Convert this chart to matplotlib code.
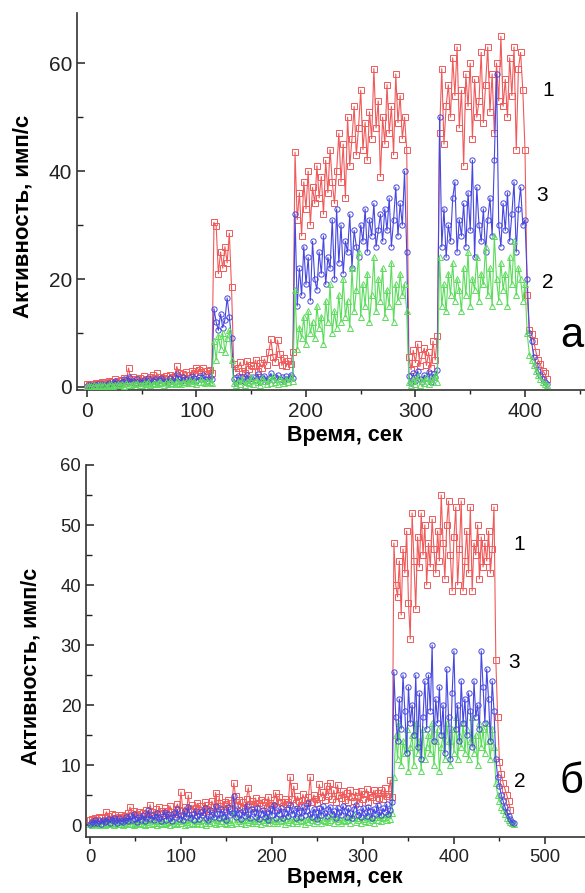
import numpy as np
import matplotlib
matplotlib.use("Agg")
import matplotlib.pyplot as plt
from matplotlib.ticker import MultipleLocator

plt.rcParams['font.family'] = ['Liberation Sans', 'DejaVu Sans']

STEP = 2  # seconds between samples

# ---------------- panel "а" ----------------
red_a = [
    # 0-114
    0.5,0.4,0.6,0.5,0.8,0.6,0.7,0.9,1.0,0.7,
    1.2,0.9,1.0,1.4,1.1,0.8,1.3,1.6,1.2,3.5,
    1.5,1.8,1.0,1.4,1.7,1.2,2.0,1.5,1.3,1.8,
    2.2,1.6,2.5,1.4,1.9,1.7,2.1,1.5,2.3,1.8,
    2.0,3.8,2.6,1.9,2.4,2.8,1.7,2.2,3.0,2.5,
    3.6,3.2,2.7,3.5,2.4,2.9,3.1,2.6,
    # 116-130
    30.5,29.8,21,25,22,26,23,28.5,
    # 132-188
    18.5,4.2,2.8,3.5,4.6,3.0,2.6,4.8,3.3,4.0,
    3.8,5.0,2.9,4.4,3.6,5.2,4.1,6.5,8.8,5.5,
    4.6,8.7,6.2,4.0,5.4,3.8,4.9,4.3,6.5,
    # 190-292
    43.5,31,36,28,38,33,40,30,37,34,
    41,35,39,32,42,36,44,38,34,40,
    47,38,45,35,50,41,46,52,43,48,
    55,44,49,42,51,46,59,48,53,39,
    50,45,56,47,52,43,58,49,54,46,
    50,44,
    # 294-320
    5.5,3.2,6.8,4.5,8.0,3.8,5.9,7.2,4.0,6.4,3.5,8.5,5.0,9.5,
    # 322-400
    47,59,45,52,56,50,61,54,63,48,
    55,41,58,52,60,46,57,50,53,62,
    49,56,63,51,58,47,60,53,65,52,
    57,50,61,54,63,44,59,62,55,44,
    # 402-420
    17,10.5,9.8,8.5,6.5,5.0,4.2,3.0,2.5,1.5,
]

blue_a = [
    0.2,0.3,0.1,0.4,0.3,0.5,0.2,0.6,0.4,0.3,
    0.7,0.5,0.8,1.2,0.6,0.4,1.0,1.5,0.8,1.9,
    0.9,1.2,0.6,1.4,1.0,0.7,1.3,0.9,1.6,0.8,
    1.1,1.5,0.9,1.3,1.7,1.0,1.2,0.8,1.6,1.3,
    1.0,2.4,1.4,1.1,1.8,1.5,0.9,1.3,2.0,1.6,
    1.2,1.8,1.4,2.3,1.5,1.1,1.9,1.4,
    14.5,12,10.5,13.5,11,12.5,16.5,13,
    9,1.5,0.8,2.0,1.2,1.8,0.9,2.3,1.4,1.1,
    1.9,1.3,2.4,1.0,1.6,2.1,1.2,1.7,2.5,1.3,
    1.8,2.2,1.4,1.9,1.1,2.0,1.5,2.3,1.6,
    32,15,22,17,26,19,24,16,27,20,
    18,25,21,28,19,24,22,31,20,33,
    23,30,21,27,25,32,22,29,26,24,
    30,27,33,25,31,28,34,26,29,32,
    27,33,29,35,26,31,37,28,34,30,
    40,25,
    2.0,0.8,2.5,1.2,3.0,1.5,0.9,2.2,1.6,2.8,1.0,2.4,1.8,3.2,
    50,26,33,24,30,27,35,38,25,31,
    28,34,26,36,29,42,24,37,30,27,
    33,25,31,35,28,42,58,30,26,34,
    29,36,27,32,38,25,33,37,30,31,
    20,10,8.5,5.5,4.0,3.0,2.2,1.5,1.0,0.5,
]

green_a = [
    0.1,0.2,0.1,0.3,0.2,0.1,0.3,0.2,0.4,0.2,
    0.3,0.5,0.2,0.4,0.6,0.3,0.5,0.2,0.7,0.4,
    0.3,0.6,0.5,0.8,0.4,0.3,0.7,0.5,0.9,0.4,
    0.6,0.8,0.5,1.0,0.7,0.4,0.9,0.6,1.1,0.7,
    0.5,1.2,0.8,0.6,1.0,0.9,0.7,1.3,0.8,1.1,
    0.6,1.0,1.4,0.9,0.7,1.2,1.0,0.8,
    8.5,5,9.5,7,10,6.5,9,10.5,
    5,0.8,0.4,1.2,0.6,1.5,0.3,1.0,0.7,1.8,
    0.5,1.3,0.9,0.4,1.6,1.1,0.6,1.4,0.8,2.0,
    1.0,0.5,1.7,1.2,0.7,1.5,0.9,1.9,1.1,
    18,7,11,9,13,8,14,10,12,9,
    15,11,13,8,16,12,19,10,14,11,
    17,12,20,13,16,11,22,14,18,25,
    13,19,15,21,12,17,24,14,20,16,
    22,13,18,15,23,12,19,16,21,17,
    19,14,
    1.0,0.3,1.5,0.6,2.0,0.4,1.2,0.8,1.8,0.5,1.4,0.9,2.2,1.0,
    24,15,19,14,21,17,23,16,20,18,
    14,22,17,25,15,20,18,24,16,21,
    19,26,17,22,15,28,20,16,23,18,
    21,15,24,19,27,17,22,20,16,19,
    10,6,5,4,3,2.2,1.5,1.0,0.5,0.3,
]

# ---------------- panel "б" ----------------
red_b = [
    0.8,1.0,0.6,1.2,0.9,1.4,1.1,0.7,1.3,2.2,
    1.5,1.0,1.8,1.2,1.6,0.9,1.4,1.7,1.1,1.5,
    1.3,2.0,3.0,1.6,2.4,1.2,1.9,2.2,1.5,2.0,
    1.8,2.5,1.4,3.4,2.1,1.7,2.6,1.9,3.0,2.3,
    2.0,2.8,1.6,2.4,3.2,2.2,1.8,2.7,3.5,2.5,
    5.5,2.4,3.0,2.0,5.0,2.6,3.3,2.1,2.9,3.6,
    2.5,3.1,2.2,3.8,2.7,3.4,2.3,4.0,3.0,5.4,
    2.8,4.6,3.2,2.6,3.9,3.5,4.2,2.9,3.7,7.0,
    4.8,3.3,4.1,3.0,3.8,2.7,4.4,6.2,3.5,4.0,
    3.1,4.5,2.9,3.7,4.2,3.4,3.9,2.8,4.7,3.6,
    3.3,4.1,5.4,3.0,4.6,3.8,3.2,4.3,3.5,3.9,
    8.0,4.4,6.5,3.6,4.8,4.0,3.4,5.1,4.2,3.7,
    4.6,8.0,3.9,5.0,4.3,3.6,6.8,4.7,5.5,4.1,
    6.5,4.9,7.0,4.4,5.8,3.9,6.7,5.0,4.5,5.6,
    4.2,5.3,3.8,5.9,4.6,4.0,5.5,4.8,3.7,5.7,
    4.4,5.2,6.0,3.9,5.0,4.7,5.8,4.1,5.4,4.5,
    5.9,4.3,6.2,4.8,5.1,7.5,4.6,
    47,40,38,44,35,46,42,49,37,31,
    52,44,36,48,43,52,45,50,40,47,
    43,51,46,42,49,44,55,47,41,50,
    54,45,39,48,53,40,46,54,39,44,
    49,42,53,39,47,45,50,41,48,43,
    47,44,49,42,46,53,
    27.5,18,10.5,8.5,7,6,5,4,2.5,
]

blue_b = [
    0.2,0.5,0.3,0.8,0.4,0.6,0.2,0.9,0.5,0.7,
    1.0,0.4,0.8,1.2,0.6,0.3,1.1,0.7,0.5,0.9,
    1.3,0.6,1.5,0.8,1.9,1.0,0.5,1.4,0.9,1.7,
    0.7,1.2,2.5,1.0,1.6,0.8,1.3,2.0,1.1,0.6,
    1.5,2.2,0.9,1.8,1.2,0.7,2.0,1.4,2.6,1.0,
    1.7,0.8,2.3,1.3,3.0,1.1,1.9,0.9,2.4,1.5,
    1.0,2.1,1.6,2.8,1.2,0.8,2.5,1.7,1.3,3.1,
    1.9,1.1,2.6,1.4,2.2,0.9,3.0,1.6,2.0,4.8,
    1.3,2.7,1.8,1.0,2.4,1.5,3.2,1.9,1.1,2.6,
    2.1,1.4,2.9,1.0,1.8,2.5,1.3,2.2,0.9,2.7,
    1.6,3.4,1.2,2.3,1.9,2.8,1.1,2.0,2.6,1.5,
    3.3,1.8,2.5,1.2,2.9,2.1,1.4,3.0,1.7,2.4,
    3.6,1.9,1.3,2.7,2.2,1.0,2.8,1.6,3.1,2.0,
    1.5,2.6,3.0,1.8,2.3,1.2,2.9,2.1,1.6,3.2,
    2.4,1.4,2.8,2.0,1.1,2.6,3.3,1.7,2.2,1.3,
    2.9,2.0,1.5,3.0,2.4,1.2,2.7,1.9,3.4,2.1,
    1.6,2.8,2.2,3.5,1.8,2.5,3.9,
    25.5,18,14,21,16,25,19,12,23,17,
    20,15,25,13,22,11,18,24,16,25,
    19,30,14,21,17,23,15,20,12,26,
    18,11,22,29,16,20,14,24,17,21,
    15,22,19,13,24,18,20,16,29,23,
    17,26,21,14,24,19,
    11,8,6.5,5,4,3,2.2,1.5,1.0,0.5,0.3,
]

green_b = [
    0.1,0.0,0.2,0.1,0.3,0.0,0.2,0.1,0.0,0.3,
    0.2,0.1,0.4,0.0,0.3,0.2,0.1,0.5,0.0,0.2,
    0.3,0.1,0.6,0.2,0.0,0.4,0.1,0.3,0.7,0.2,
    0.0,0.5,0.2,0.8,0.1,0.3,0.6,0.0,0.4,0.2,
    0.7,0.1,0.3,0.5,0.0,0.9,0.2,0.4,0.1,0.6,
    0.3,0.8,0.0,0.5,0.2,1.0,0.4,0.1,0.7,0.3,
    0.6,0.2,0.9,0.4,0.0,0.7,0.3,1.1,0.5,0.2,
    0.8,0.3,0.6,1.2,0.4,0.1,0.9,0.5,0.2,2.2,
    0.4,1.0,0.6,0.3,0.8,0.2,1.3,0.5,0.9,0.4,
    0.7,0.3,1.1,0.6,0.2,0.9,0.5,1.4,0.4,0.8,
    1.0,0.4,0.7,0.3,1.2,0.6,0.9,0.2,1.5,0.5,
    0.8,0.3,1.1,0.7,0.4,1.3,0.6,0.9,0.2,1.0,
    0.5,1.4,0.8,0.3,1.1,0.6,1.6,0.4,0.9,0.7,
    1.2,0.5,0.8,1.5,0.3,1.0,0.7,1.3,0.4,0.9,
    0.6,1.4,0.8,0.3,1.1,1.7,0.5,0.9,1.2,0.4,
    1.0,0.7,1.5,0.5,1.2,0.8,0.3,1.3,0.9,1.6,
    0.6,1.1,1.4,0.8,1.8,1.0,2.0,
    8,15,11,17,10,14,12,16,9,13,
    15,10,17,12,14,9,16,11,13,15,
    12,17,10,14,16,9,13,15,11,17,
    14,10,16,12,18,11,15,13,17,12,
    16,11,14,18,12,15,10,17,13,16,
    12,17,14,11,16,13,
    7,5,4,3,2.5,1.8,1.2,0.8,0.5,0.3,0.1,
]

assert len(red_a) == 211 and len(blue_a) == 211 and len(green_a) == 211
assert len(red_b) == 232 and len(blue_b) == 234 and len(green_b) == 234

RED = '#f05a5a'
BLUE = '#4646e0'
GREEN = '#5cdc5c'

def series(ax, vals, color, marker, z):
    t = np.arange(len(vals)) * STEP
    ax.plot(t, vals, color=color, lw=0.8, marker=marker, ms=3.8,
            mfc='none', mec=color, mew=0.7, zorder=z, clip_on=False)

def style(ax, tick_fs):
    for s in ('top', 'right'):
        ax.spines[s].set_visible(False)
    for s in ('left', 'bottom'):
        ax.spines[s].set_linewidth(1.2)
        ax.spines[s].set_color('#333333')
    ax.tick_params(axis='y', which='major', direction='in', length=6, width=1.1,
                   labelsize=tick_fs, colors='#222222')
    ax.tick_params(axis='y', which='minor', direction='in', length=4, width=1.0,
                   colors='#222222')
    ax.tick_params(axis='x', which='major', direction='out', length=5, width=1.1,
                   labelsize=tick_fs, colors='#222222')
    ax.tick_params(axis='x', which='minor', direction='out', length=3, width=1.0,
                   colors='#222222')

fig = plt.figure(figsize=(5.85, 8.93), dpi=100)

# top panel
ax1 = fig.add_axes([77/585, 1-390/893, 508/585, 377/893])
series(ax1, red_a, RED, 's', 3)
series(ax1, blue_a, BLUE, 'o', 4)
series(ax1, green_a, GREEN, '^', 5)
ax1.set_xlim(-9.1, 454.8)
ax1.set_ylim(-0.56, 69.3)
ax1.xaxis.set_major_locator(MultipleLocator(100))
ax1.xaxis.set_minor_locator(MultipleLocator(50))
ax1.yaxis.set_major_locator(MultipleLocator(20))
ax1.yaxis.set_minor_locator(MultipleLocator(10))
style(ax1, 15)
fig.text(345/585, 1-435/893, 'Время, сек', ha='center', va='center',
         fontsize=15.5, fontweight='bold')
fig.text(23/585, 1-216/893, 'Активность, имп/с', rotation=90, ha='center',
         va='center', fontsize=16, fontweight='bold')
ax1.text(421, 55, '1', fontsize=15, ha='center', va='center')
ax1.text(416, 35.5, '3', fontsize=15, ha='center', va='center')
ax1.text(421, 19.4, '2', fontsize=15, ha='center', va='center')
fig.text(583/585, 1-336/893, 'а', fontsize=30, ha='right', va='center')

# bottom panel
ax2 = fig.add_axes([86/585, 1-837/893, 499/585, 372/893])
series(ax2, red_b, RED, 's', 3)
series(ax2, green_b, GREEN, '^', 4)
series(ax2, blue_b, BLUE, 'o', 5)
ax2.set_xlim(-4.4, 544)
ax2.set_ylim(-2, 60)
ax2.xaxis.set_major_locator(MultipleLocator(100))
ax2.xaxis.set_minor_locator(MultipleLocator(50))
ax2.yaxis.set_major_locator(MultipleLocator(10))
ax2.yaxis.set_minor_locator(MultipleLocator(5))
style(ax2, 13.3)
fig.text(345/585, 1-877/893, 'Время, сек', ha='center', va='center',
         fontsize=15.5, fontweight='bold')
fig.text(31/585, 1-666/893, 'Активность, имп/с', rotation=90, ha='center',
         va='center', fontsize=15.5, fontweight='bold')
ax2.text(472, 46.7, '1', fontsize=15, ha='center', va='center')
ax2.text(466, 27, '3', fontsize=15, ha='center', va='center')
ax2.text(472, 7.2, '2', fontsize=15, ha='center', va='center')
fig.text(583/585, 1-782/893, 'б', fontsize=30, ha='right', va='center')

fig.savefig('out.png', dpi=100)
